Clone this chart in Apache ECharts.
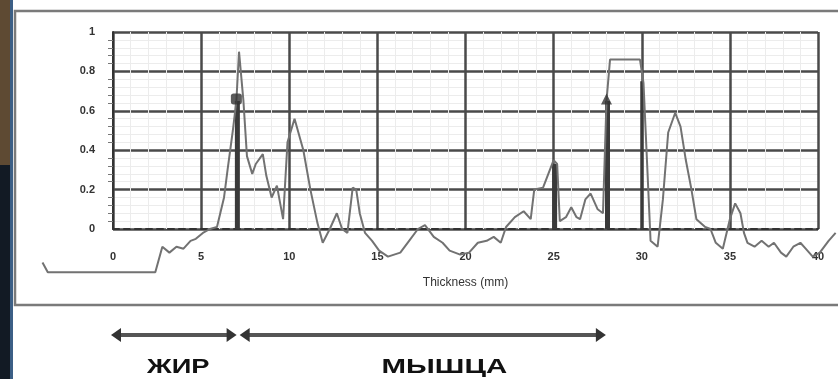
<!DOCTYPE html>
<html><head><meta charset="utf-8">
<script src="https://cdn.jsdelivr.net/npm/echarts@6/dist/echarts.min.js"></script>
<style>html,body{margin:0;padding:0;background:#fff}#c{width:838px;height:379px}</style>
</head><body><div id="c"></div>
<script>
// Thickness (mm) and signal amplitude
const thickness = [-4.0,-3.7,2.4,2.8,3.2,3.6,4.0,4.4,4.7,5.1,5.5,5.9,6.3,6.5,6.8,7.0,7.15,7.4,7.6,7.9,8.1,8.5,8.7,9.0,9.3,9.65,9.9,10.3,10.8,11.2,11.6,11.9,12.3,12.7,13.0,13.3,13.6,13.8,14.0,14.3,14.7,15.1,15.6,16.3,16.8,17.3,17.7,18.2,18.7,19.1,19.7,20.2,20.7,21.2,21.6,22.0,22.3,22.8,23.3,23.7,23.9,24.4,25.0,25.2,25.35,25.7,26.0,26.3,26.5,26.8,27.1,27.5,27.8,28.0,28.2,29.9,30.1,30.5,30.9,31.2,31.5,31.9,32.2,32.5,32.8,33.1,33.6,33.9,34.2,34.6,35.0,35.3,35.6,35.8,36.0,36.4,36.8,37.2,37.5,37.9,38.2,38.6,39.0,39.3,39.7,40.1,40.6,41.0];
const signal = [-0.17,-0.22,-0.22,-0.09,-0.12,-0.09,-0.10,-0.06,-0.05,-0.02,0.00,0.01,0.16,0.30,0.50,0.65,0.90,0.65,0.37,0.28,0.33,0.38,0.27,0.16,0.22,0.05,0.44,0.56,0.40,0.20,0.03,-0.07,0.00,0.08,0.00,-0.02,0.21,0.20,0.08,-0.02,-0.06,-0.11,-0.14,-0.12,-0.06,0.00,0.02,-0.04,-0.07,-0.11,-0.13,-0.12,-0.07,-0.06,-0.04,-0.07,0.01,0.06,0.09,0.05,0.20,0.21,0.35,0.33,0.04,0.06,0.11,0.06,0.05,0.15,0.18,0.10,0.08,0.65,0.86,0.86,0.74,-0.06,-0.09,0.15,0.49,0.59,0.52,0.35,0.21,0.05,0.01,0.00,-0.07,-0.10,0.05,0.13,0.08,-0.02,-0.07,-0.09,-0.06,-0.09,-0.07,-0.12,-0.14,-0.09,-0.07,-0.10,-0.14,-0.12,-0.06,-0.02];
// boundary markers (thick and thin vertical bars)
const boundaryX = [7.0, 25.0, 28.0];
const boundaryY = [0.65, 0.33, 0.65];
const thinBoundaryX = [30.0];
const thinBoundaryY = [0.75];
// marker heads
const headX = [7.0, 28.0];
const headY = [0.66, 0.66];
const headShape = ['roundRect', 'triangle'];
// axis
const xMin = 0, xMax = 40, xStep = 5;
const yMin = 0, yMax = 1, yStep = 0.2;
const xAxisName = 'Thickness (mm)';
// full extent of the recorded trace (mm)
const traceMin = -4, traceMax = 41;
// tissue regions (in mm)
const regionNames = ['ЖИР', 'МЫШЦА'];
const regionFrom = [0.0, 7.3];
const regionTo = [6.9, 27.85];
const regionLabelAt = [3.7, 18.8];

const chart = echarts.init(document.getElementById('c'), null, {renderer: 'canvas'});
const zip = (a, b) => a.map((v, i) => [v, b[i]]);

// main grid geometry
const gLeft = 113, gRight = 20, gTop = 32, gBottom = 150, W = 838;
const pxPerMm = (W - gLeft - gRight) / (xMax - xMin);
// a hidden, wider grid with the same scale carries the full trace
const tLeft = gLeft + (traceMin - xMin) * pxPerMm;
const tRight = W - (gLeft + (traceMax - xMin) * pxPerMm);

chart.setOption({
  backgroundColor: '#ffffff',
  animation: false,
  grid: [
    {left: gLeft, right: gRight, top: gTop, bottom: gBottom, containLabel: false},
    {left: tLeft, right: tRight, top: gTop, bottom: gBottom, containLabel: false}
  ],
  xAxis: [{
    type: 'value', min: xMin, max: xMax, interval: xStep, gridIndex: 0,
    name: xAxisName, nameLocation: 'middle', nameGap: 48,
    nameTextStyle: {color: '#333', fontSize: 12, fontFamily: 'Liberation Sans'},
    axisLine: {show: true, onZero: false, lineStyle: {color: '#333', width: 2, type: [6, 5]}},
    axisTick: {show: false},
    axisLabel: {color: '#333', fontSize: 11, fontWeight: 'bold', margin: 22, fontFamily: 'Liberation Sans'},
    splitLine: {show: true, lineStyle: {color: '#4a4a4a', width: 2.5}},
    minorSplitLine: {show: true, lineStyle: {color: '#ececec', width: 1}}
  }, {
    type: 'value', min: traceMin, max: traceMax, gridIndex: 1, show: false,
    splitLine: {show: false}
  }],
  yAxis: [{
    type: 'value', min: yMin, max: yMax, interval: yStep, gridIndex: 0,
    axisLine: {show: true, lineStyle: {color: '#333', width: 2}},
    axisTick: {show: false},
    minorTick: {show: true, splitNumber: 5, length: 5, lineStyle: {color: '#777'}},
    axisLabel: {color: '#333', fontSize: 11, fontWeight: 'bold', margin: 18, fontFamily: 'Liberation Sans'},
    splitLine: {show: true, lineStyle: {color: '#4a4a4a', width: 2.5}},
    minorSplitLine: {show: true, lineStyle: {color: '#ececec', width: 1}}
  }, {
    type: 'value', min: yMin, max: yMax, gridIndex: 1, show: false,
    splitLine: {show: false}
  }],
  series: [
    {
      type: 'line', xAxisIndex: 1, yAxisIndex: 1, data: zip(thickness, signal), showSymbol: false, clip: false,
      lineStyle: {color: '#727272', width: 2}, z: 5
    },
    {
      type: 'bar', data: zip(boundaryX, boundaryY), barWidth: 5, barGap: '-100%',
      itemStyle: {color: '#3a3a3a'}, z: 4
    },
    {
      type: 'bar', data: zip(thinBoundaryX, thinBoundaryY), barWidth: 3, barGap: '-100%',
      itemStyle: {color: '#3a3a3a'}, z: 4
    },
    {
      type: 'scatter', data: zip(headX, headY).map((p, i) => ({value: p, symbol: headShape[i]})),
      symbolSize: [11, 11], itemStyle: {color: '#333'}, z: 6
    }
  ]
});

function drawDecor() {
  const g = [];
  // photo frame and dark edge
  g.push({type: 'rect', shape: {x: 15, y: 11, width: 840, height: 294}, style: {fill: 'none', stroke: '#7a7a7a', lineWidth: 2.5}, z: -1, silent: true});
  g.push({type: 'rect', shape: {x: 0, y: 0, width: 12, height: 165}, style: {fill: '#5e4a33'}, silent: true});
  g.push({type: 'rect', shape: {x: 0, y: 165, width: 12, height: 214}, style: {fill: '#121a24'}, silent: true});
  g.push({type: 'rect', shape: {x: 10, y: 0, width: 3, height: 379}, style: {fill: '#3c5f86'}, silent: true});
  const ay = 335, yl = 367;
  const scales = [1.3, 1.4];
  regionNames.forEach((name, i) => {
    const x1 = chart.convertToPixel({gridIndex: 0}, [regionFrom[i], 0])[0];
    const x2 = chart.convertToPixel({gridIndex: 0}, [regionTo[i], 0])[0];
    const xc = chart.convertToPixel({gridIndex: 0}, [regionLabelAt[i], 0])[0];
    g.push({type: 'line', shape: {x1: x1 + 4, y1: ay, x2: x2 - 4, y2: ay}, style: {stroke: '#555', lineWidth: 4}, silent: true});
    g.push({type: 'polygon', shape: {points: [[x1 - 2, ay], [x1 + 8, ay - 7], [x1 + 8, ay + 7]]}, style: {fill: '#333'}, silent: true});
    g.push({type: 'polygon', shape: {points: [[x2 + 2, ay], [x2 - 8, ay - 7], [x2 - 8, ay + 7]]}, style: {fill: '#333'}, silent: true});
    g.push({type: 'text', x: xc, y: yl, scaleX: scales[i], style: {text: name, fill: '#111', font: 'bold 21px "Liberation Sans"', textAlign: 'center', textVerticalAlign: 'middle'}, silent: true});
  });
  chart.setOption({graphic: g});
}
drawDecor();
</script>
</body></html>
